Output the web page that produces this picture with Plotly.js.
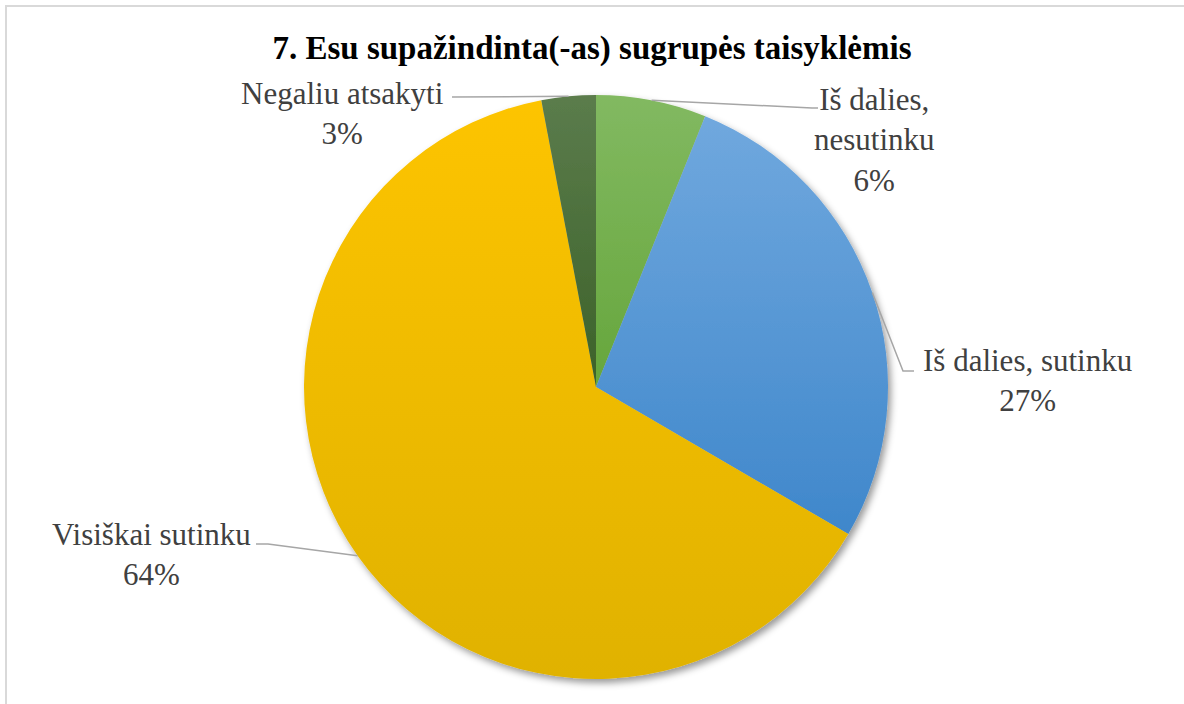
<!DOCTYPE html>
<html>
<head>
<meta charset="utf-8">
<script src="https://cdn.plot.ly/plotly-3.0.1.min.js"></script>
<style>
  html, body { margin: 0; padding: 0; background: #fff; }
  #wrap { position: relative; width: 1184px; height: 704px; overflow: hidden; }
  #chart { width: 1184px; height: 704px; }
  #frame {
    position: absolute; left: 5px; top: 5px; width: 1300px; height: 800px;
    border-left: 2px solid #d9d9d9; border-top: 2px solid #d9d9d9; pointer-events: none;
  }
</style>
</head>
<body>
<div id="wrap">
  <div id="chart"></div>
  <div id="frame"></div>
</div>
<script>
const W = 1184, H = 704;
const SERIF = "Liberation Serif, Times New Roman, DejaVu Serif, serif";

const categories = ["Iš dalies, nesutinku", "Iš dalies, sutinku", "Visiškai sutinku", "Negaliu atsakyti"];
const labelLines = ["Iš dalies,<br>nesutinku", "Iš dalies, sutinku", "Visiškai sutinku", "Negaliu atsakyti"];
const values = [6.1, 27.3, 63.6, 3.0];
const topColors = ["#82b961", "#70a8de", "#fdc400", "#5b7c4c"];
const bottomColors = ["#66a63c", "#3f87cb", "#e0b200", "#3c6229"];

// pie geometry in pixels
const cx = 596, cy = 387, r = 292;
// label centres and leader elbows (pixels)
const labelPos = [[874, 140], [1027, 381], [151, 554], [342, 114]];
const elbows = [[[812, 108], [818, 108]], [[903, 371], [914, 371]], [[268, 544], [256, 544]], [[452, 97], [452, 97]]];

const px = (x) => x / W;
const py = (y) => 1 - y / H;

const total = values.reduce((a, b) => a + b, 0);
let cum = 0;
const tips = values.map((v) => {
  const a = 2 * Math.PI * (cum + v / 2) / total;
  cum += v;
  return [cx + r * Math.sin(a), cy - r * Math.cos(a)];
});

const annotations = categories.map((c, i) => ({
  xref: "paper", yref: "paper",
  x: px(labelPos[i][0]), y: py(labelPos[i][1]),
  xanchor: "center", yanchor: "middle",
  text: labelLines[i] + "<br>" + Math.round(values[i] / total * 100) + "%",
  showarrow: false,
  font: { family: SERIF, size: 31, color: "#404040" },
}));

const shapes = tips.map((t, i) => {
  const pts = [t, ...elbows[i]];
  const d = pts.map((p, k) => (k ? "L" : "M") + px(p[0]).toFixed(5) + "," + py(p[1]).toFixed(5)).join(" ");
  return {
    type: "path", xref: "paper", yref: "paper", path: d,
    line: { color: "#a6a6a6", width: 1.5 },
  };
});

Plotly.newPlot("chart", [{
  type: "pie",
  labels: categories,
  values: values,
  sort: false,
  direction: "clockwise",
  rotation: 0,
  textinfo: "none",
  hoverinfo: "label+percent",
  marker: { colors: topColors, line: { width: 0 } },
  domain: { x: [px(cx - r), px(cx + r)], y: [py(cy + r), py(cy - r)] },
}], {
  width: W, height: H,
  margin: { t: 0, r: 0, b: 0, l: 0 },
  paper_bgcolor: "#fff",
  showlegend: false,
  title: {
    text: "<b>7. Esu supažindinta(-as) sugrupės taisyklėmis</b>",
    font: { family: SERIF, size: 33, color: "#000" },
    x: 0.5, xanchor: "center", y: py(47), yanchor: "middle",
  },
  annotations: annotations,
  shapes: shapes,
}, { displayModeBar: false, staticPlot: true }).then((gd) => {
  // gradient fills and a soft shadow, as in the original office chart
  const ns = "http://www.w3.org/2000/svg";
  const svg = gd.querySelector("svg.main-svg");
  let defs = svg.querySelector("defs");
  if (!defs) { defs = document.createElementNS(ns, "defs"); svg.prepend(defs); }
  topColors.forEach((c, i) => {
    const g = document.createElementNS(ns, "linearGradient");
    g.setAttribute("id", "sliceGrad" + i);
    g.setAttribute("x1", "0"); g.setAttribute("y1", "0");
    g.setAttribute("x2", "0"); g.setAttribute("y2", "1");
    [[0, c], [1, bottomColors[i]]].forEach(([o, col]) => {
      const s = document.createElementNS(ns, "stop");
      s.setAttribute("offset", o);
      s.setAttribute("stop-color", col);
      g.appendChild(s);
    });
    defs.appendChild(g);
  });
  const f = document.createElementNS(ns, "filter");
  f.setAttribute("id", "pieShadow");
  f.setAttribute("x", "-10%"); f.setAttribute("y", "-10%");
  f.setAttribute("width", "125%"); f.setAttribute("height", "125%");
  const sh = document.createElementNS(ns, "feDropShadow");
  sh.setAttribute("dx", "3"); sh.setAttribute("dy", "4");
  sh.setAttribute("stdDeviation", "3.5");
  sh.setAttribute("flood-color", "#000");
  sh.setAttribute("flood-opacity", "0.4");
  f.appendChild(sh);
  defs.appendChild(f);

  gd.querySelectorAll(".pielayer .slice path.surface").forEach((p, i) => {
    p.style.fill = "url(#sliceGrad" + i + ")";
  });
  const trace = gd.querySelector(".pielayer .trace");
  if (trace) trace.setAttribute("filter", "url(#pieShadow)");
});
</script>
</body>
</html>
